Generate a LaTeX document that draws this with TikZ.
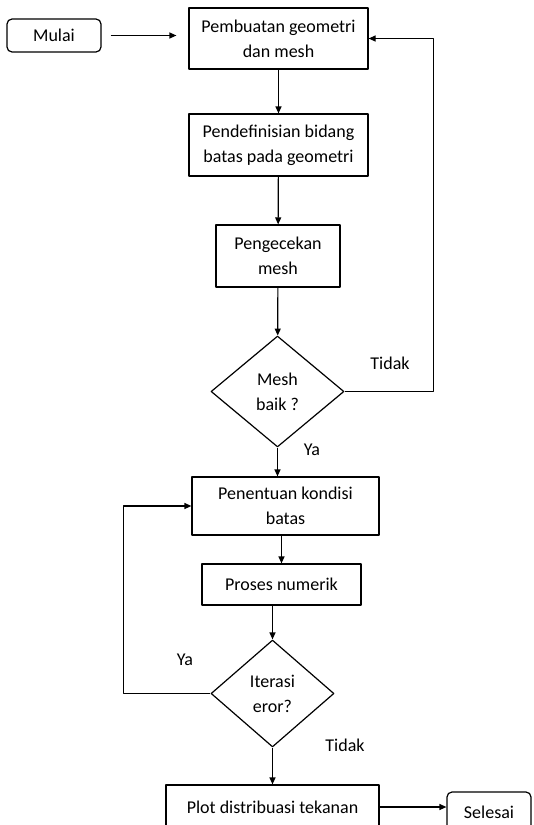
\documentclass[tikz,border=0pt]{standalone}
\usepackage{fontspec}
\setmainfont{Carlito}
\usetikzlibrary{shapes.geometric,arrows.meta}
\begin{document}
\begin{tikzpicture}[x=1pt, y=1pt, font=\fontsize{18}{25}\selectfont, line join=round, line width=1.2pt,
		>={Triangle[length=7pt,width=6pt]},
		kotak/.style={draw, rectangle, align=center, inner sep=0pt},
		ujung/.style={draw, rounded corners=5pt, align=center, inner sep=0pt},
		pilihan/.style={draw, diamond, aspect=1.2, align=center, inner sep=0pt}]
	\def\W{534} \def\H{825} % ukuran gambar
	\useasboundingbox (0,0) rectangle (\W,-\H);
	\clip (0,0) rectangle (\W,-\H);
	% simpul
	\node[ujung, minimum width=94pt, minimum height=33pt] (mulai) at (54,-35.5) {Mulai};
	\node[kotak, minimum width=179pt, minimum height=61pt] (geo) at (278.5,-38.5) {Pembuatan geometri\\dan mesh};
	\node[kotak, minimum width=179pt, minimum height=62pt] (bidang) at (278.5,-145) {Pendefinisian bidang\\batas pada geometri};
	\node[kotak, minimum width=124pt, minimum height=62pt] (cek) at (278,-256) {Pengecekan\\mesh};
	\node[pilihan, minimum width=133pt, minimum height=111pt] (mesh) at (277.5,-391.5) {Mesh\\baik ?};
	\node[kotak, minimum width=187pt, minimum height=58pt] (kondisi) at (285.5,-506) {Penentuan kondisi\\batas};
	\node[kotak, minimum width=159pt, minimum height=41pt] (numerik) at (281.5,-584.5) {Proses numerik};
	\node[pilihan, minimum width=123pt, minimum height=107pt] (iterasi) at (272.5,-693.5) {Iterasi\\eror?};
	\node[kotak, minimum width=213pt, minimum height=44pt] (plot) at (272.5,-807) {Plot distribuasi tekanan};
	\node[ujung, minimum width=84pt, minimum height=40pt] (selesai) at (489,-812) {Selesai};
	% label
	\node (tidakA) at (390,-363) {Tidak};
	\node (yaA) at (312,-450) {Ya};
	\node (yaB) at (185,-660) {Ya};
	\node (tidakB) at (345,-745) {Tidak};
	% panah
	\draw[->, shorten <=9pt, shorten >=12pt] (mulai.east) -- (mulai.east -| geo.west);
	\draw[->] (geo) -- (bidang);
	\draw[->] (bidang) -- (cek);
	\draw[->] (cek) -- (mesh);
	\draw[->] (mesh.east) -- ++(89,0) |- (geo.east);
	\draw[->] (mesh) -- (kondisi.north -| mesh);
	\draw[->] (kondisi.south -| numerik) -- (numerik);
	\draw[->] (numerik.south -| iterasi) -- (iterasi);
	\draw[->] (iterasi.west) -- ++(-87,0) |- (kondisi.west);
	\draw[->] (iterasi) -- (plot);
	\draw[->] (plot.east) -- (plot.east -| selesai.west);
\end{tikzpicture}
\end{document}
